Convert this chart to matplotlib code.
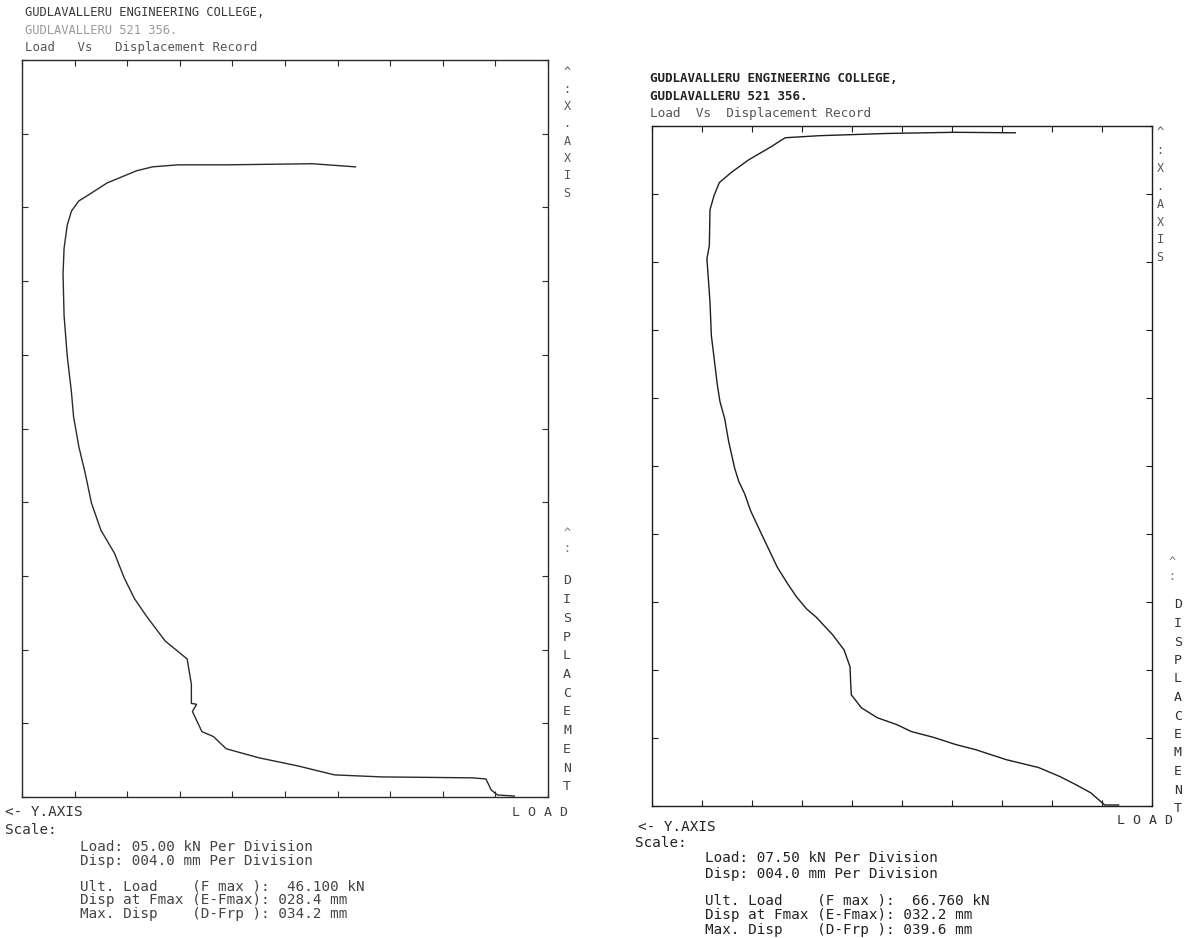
import matplotlib
matplotlib.use("Agg")
import matplotlib.pyplot as plt
import numpy as np

# Left record: load (kN) vs displacement (mm)
load_a = [3.2, 4.8, 5.4, 5.9, 7.2, 15.8, 20.3, 23.8, 27.5, 30.6, 31.8, 32.9,
          33.8, 33.4, 33.9, 33.9, 34.3, 36.4, 38.2, 39.3, 40.3, 41.2, 42.5,
          43.4, 44.0, 44.6, 45.1, 45.3, 45.7, 46.0, 46.1, 46.0, 45.7, 45.3,
          44.6, 43.7, 41.9, 39.1, 37.6, 35.2, 30.6, 22.4, 18.3]
disp_a = [0.05, 0.11, 0.38, 0.98, 1.04, 1.09, 1.20, 1.69, 2.13, 2.62, 3.28,
          3.55, 4.64, 5.03, 5.08, 6.12, 7.49, 8.47, 9.84, 10.76, 11.91, 13.22,
          14.48, 15.96, 17.59, 19.02, 20.65, 21.97, 23.93, 26.12, 28.4, 29.78,
          31.04, 31.80, 32.35, 32.67, 33.33, 33.99, 34.20, 34.31, 34.31, 34.37,
          34.2]

# Right record
load_b = [5.0, 7.1, 9.2, 11.4, 13.8, 17.0, 21.9, 26.5, 29.4, 32.7, 36.1,
          38.3, 41.2, 43.6, 45.1, 45.2, 45.3, 46.2, 47.9, 50.4, 51.8, 53.3,
          54.7, 56.2, 57.4, 58.6, 60.2, 61.1, 62.0, 62.6, 63.5, 64.1, 64.8,
          65.2, 66.1, 66.3, 66.76, 66.4, 66.3, 65.7, 64.9, 63.1, 60.5, 57.0,
          55.8, 55.0, 49.9, 39.8, 29.7, 20.5]
disp_b = [0.06, 0.06, 0.78, 1.25, 1.73, 2.26, 2.73, 3.32, 3.61, 4.03, 4.38,
          4.79, 5.19, 5.78, 6.54, 7.25, 8.19, 9.19, 10.07, 11.12, 11.59, 12.29,
          13.10, 14.04, 15.03, 16.02, 17.36, 18.36, 19.11, 19.87, 21.44, 22.79,
          23.78, 24.77, 27.69, 29.63, 32.2, 32.96, 35.07, 35.9, 36.67, 37.27,
          38.01, 38.81, 39.12, 39.31, 39.43, 39.56, 39.63, 39.6]

load_div = [5.0, 7.5]      # kN per division
disp_div = 4.0             # mm per division
n_div = 10

header = ["GUDLAVALLERU ENGINEERING COLLEGE,", "GUDLAVALLERU 521 356.",
          "Load  Vs  Displacement Record"]
scale_a = ["Load: 05.00 kN Per Division", "Disp: 004.0 mm Per Division"]
scale_b = ["Load: 07.50 kN Per Division", "Disp: 004.0 mm Per Division"]
result_a = ["Ult. Load    (F max ):  46.100 kN",
            "Disp at Fmax (E-Fmax): 028.4 mm",
            "Max. Disp    (D-Frp ): 034.2 mm"]
result_b = ["Ult. Load    (F max ):  66.760 kN",
            "Disp at Fmax (E-Fmax): 032.2 mm",
            "Max. Disp    (D-Frp ): 039.6 mm"]

W, H = 1192, 938
plt.rcParams['font.family'] = ['DejaVu Sans Mono']
fig = plt.figure(figsize=(W / 100, H / 100), dpi=100)
fig.patch.set_facecolor('white')


def put(x, y, s, size=10.3, color='#333333', weight='normal', **kw):
    # x, y in image pixels (from top-left)
    fig.text(x / W, 1 - y / H, s, fontsize=size, color=color,
             fontweight=weight, va='center', ha=kw.pop('ha', 'left'), **kw)


def record(box, loads, disps, ldiv, ink):
    l, t, r, b = box
    ax = fig.add_axes([l / W, 1 - b / H, (r - l) / W, (b - t) / H])
    ax.plot(loads, disps, color=ink, lw=1.0)
    ax.set_xlim(ldiv * n_div, 0)
    ax.set_ylim(0, disp_div * n_div)
    ax.set_xticks(np.arange(0, ldiv * n_div + 0.1, ldiv))
    ax.set_yticks(np.arange(0, disp_div * n_div + 0.1, disp_div))
    ax.tick_params(direction='in', length=4, width=0.8, color=ink,
                   top=True, right=True, labelbottom=False, labelleft=False)
    for sp in ax.spines.values():
        sp.set_color(ink)
        sp.set_linewidth(1.0)
    return ax


# left printout
record((22, 60, 548, 797), load_a, disp_a, load_div[0], '#2a2a2a')
put(25, 13, header[0], size=8.7, color='#3a3a3a')
put(25, 30, header[1], size=8.7, color='#9a9a9a')
put(25, 48, header[2].replace("  ", "   "), size=8.9, color='#555555')
for i, ch in enumerate("^:X.AXIS"):
    put(567, 72 + i * 17.3, ch, size=8.5, color='#555555', ha='center')
for i, ch in enumerate("^:"):
    put(567, 533 + i * 15, ch, size=8.5, color='#777777', ha='center')
for i, ch in enumerate("DISPLACEMENT"):
    put(567, 581 + i * 18.7, ch, size=9.5, color='#444444', ha='center')
put(5, 812, "<- Y.AXIS", color='#333333')
put(512, 812, "L O A D", size=9.5, color='#444444')
put(5, 830, "Scale:", color='#333333')
put(80, 847, scale_a[0], color='#444444')
put(80, 861, scale_a[1], color='#444444')
for i, s in enumerate(result_a):
    put(80, 886 + i * 14, s, color='#444444')

# right printout
record((652, 126, 1152, 806), load_b, disp_b, load_div[1], '#1e1e1e')
put(650, 78, header[0], size=9.0, color='#222222', weight='bold')
put(650, 96, header[1], size=9.0, color='#222222', weight='bold')
put(650, 113, header[2], size=9.2, color='#555555')
for i, ch in enumerate("^:X.AXIS"):
    put(1160, 133 + i * 17.8, ch, size=8.5, color='#555555', ha='center')
for i, ch in enumerate("^:"):
    put(1172, 562 + i * 14, ch, size=8.5, color='#777777', ha='center')
for i, ch in enumerate("DISPLACEMENT"):
    put(1178, 605 + i * 18.5, ch, size=9.5, color='#333333', ha='center')
put(638, 827, "<- Y.AXIS", color='#222222')
put(1117, 820, "L O A D", size=9.5, color='#333333')
put(635, 843, "Scale:", color='#222222')
put(705, 858, scale_b[0], color='#222222')
put(705, 874, scale_b[1], color='#222222')
for i, s in enumerate(result_b):
    put(705, 900 + i * 15, s, color='#222222')

fig.savefig('out.png', dpi=100, facecolor='white')
